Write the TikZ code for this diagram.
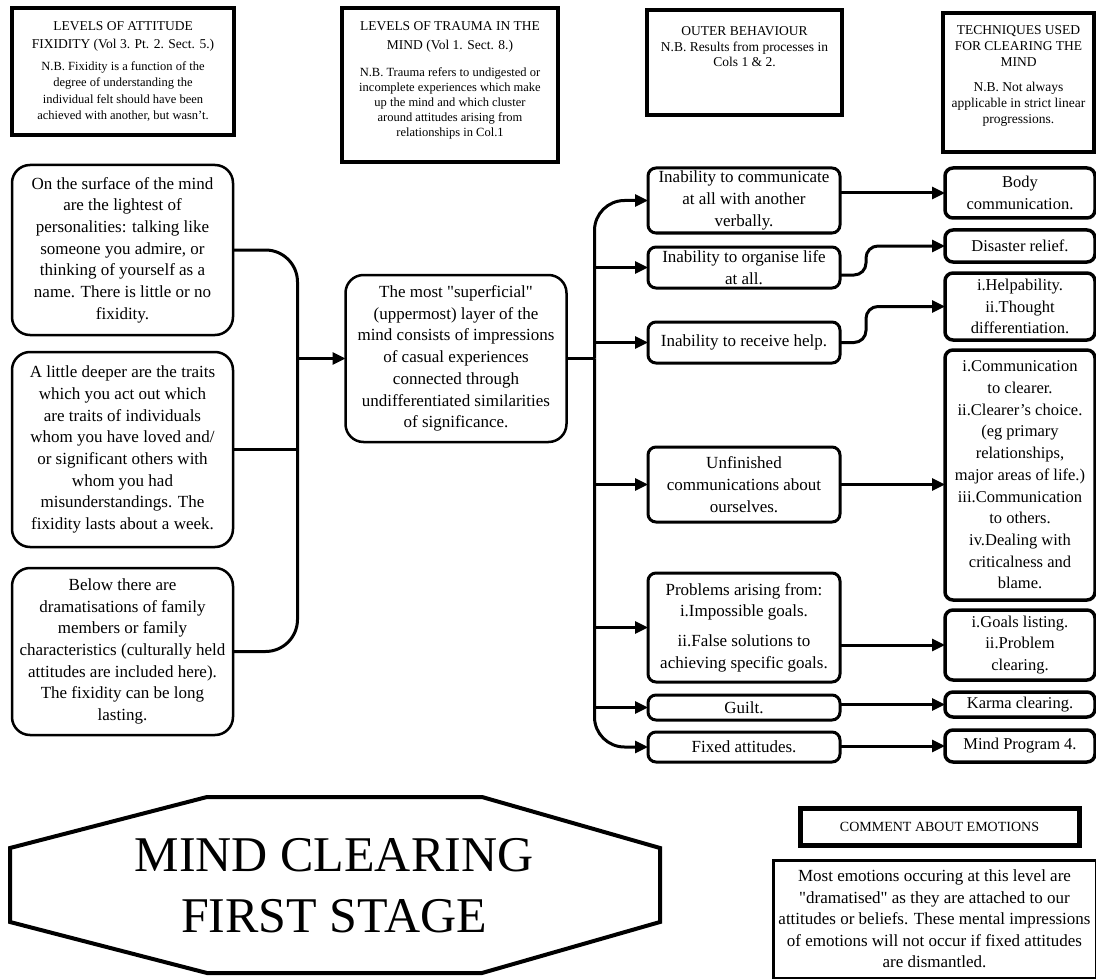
\documentclass[tikz,border=0pt]{standalone}
\usepackage{fontspec}
\setmainfont{Liberation Serif}
\usetikzlibrary{positioning}
\usetikzlibrary{arrows.meta}
\newcommand\ttl{\fontsize{13.5}{15}\selectfont}
\newcommand\qq{\textquotedbl}
\tikzset{
    hdrbox/.style={draw, line width=4pt, align=center, inner sep=2pt, outer sep=0pt},
    lvlbox/.style={draw, line width=2.5pt, rounded corners=18pt, align=center, inner sep=0pt, outer sep=0pt,
        minimum width=221pt, font=\fontsize{17}{21.7}\selectfont},
    outbox/.style={draw, line width=3pt, rounded corners=8pt, align=center, inner sep=0pt, outer sep=0pt,
        minimum width=192pt, font=\fontsize{17}{21.7}\selectfont},
    techbox/.style={draw, line width=3.5pt, rounded corners=8pt, align=center, inner sep=0pt, outer sep=0pt,
        minimum width=150pt, font=\fontsize{16.5}{21.7}\selectfont},
    link/.style={line width=3pt},
}

\begin{document}
\begin{tikzpicture}[x=1pt, y=-1pt, >={Triangle[length=13pt,width=12pt]}]
            \useasboundingbox (0,0) rectangle (1096,979);

            % column headers
            \node (fixhdr) [hdrbox, minimum width=222pt, minimum height=127pt, font=\fontsize{12.5}{16.5}\selectfont]
                at (123,71.5) {\ttl LEVELS OF ATTITUDE\\[1.5pt]\ttl FIXIDITY (Vol 3. Pt. 2. Sect. 5.)\\[5.5pt]
                N.B. Fixidity is a function of the\\degree of understanding the\\individual felt should have been\\achieved with another, but wasn't.};
            \node (trahdr) [hdrbox, minimum width=216pt, minimum height=154pt, text depth=12pt, font=\fontsize{12.5}{15}\selectfont]
                at (450,85) {\ttl LEVELS OF TRAUMA IN THE\\[4pt]\ttl MIND (Vol 1. Sect. 8.)\\[12pt]
                N.B. Trauma refers to undigested or\\incomplete experiences which make\\up the mind and which cluster\\around attitudes arising from\\relationships in Col.1};
            \node (outhdr) [hdrbox, minimum width=195pt, minimum height=105pt, text depth=32pt, font=\fontsize{13.5}{15}\selectfont]
                at (744.5,62.5) {\ttl OUTER BEHAVIOUR\\[1pt]N.B. Results from processes in\\Cols 1 \& 2.};
            \node (techhdr) [hdrbox, minimum width=151pt, minimum height=139pt, text depth=16pt, font=\fontsize{13.5}{16}\selectfont]
                at (1018.5,82.5) {\ttl TECHNIQUES USED\\[0pt]\ttl FOR CLEARING THE\\[0pt]\ttl MIND\\[9pt]
                N.B. Not always\\applicable in strict linear\\progressions.};

            % levels of fixidity
            \node (lvl1) [lvlbox, minimum height=170pt] at (122.5,250)
                {On the surface of the mind\\are the lightest of\\personalities: talking like\\someone you admire, or\\thinking of yourself as a\\name. There is little or no\\fixidity.};
            \node (lvl2) [lvlbox, minimum height=195pt, below=17pt of lvl1]
                {A little deeper are the traits\\which you act out which\\are traits of individuals\\whom you have loved and/\\or significant others with\\whom you had\\misunderstandings. The\\fixidity lasts about a week.};
            \node (lvl3) [lvlbox, minimum height=167pt, below=21pt of lvl2]
                {Below there are\\dramatisations of family\\members or family\\characteristics (culturally held\\attitudes are included here).\\The fixidity can be long\\lasting.};

            \node (trauma) [lvlbox, minimum height=167pt] at (456,358.5)
                {The most \qq superficial\qq\\(uppermost) layer of the\\mind consists of impressions\\of casual experiences\\connected through\\undifferentiated similarities\\of significance.};

            % outer behaviour
            \node (ob1) [outbox, minimum height=65pt] at (744,200.5) {Inability to communicate\\at all with another\\verbally.};
            \node (ob2) [outbox, minimum height=41pt, below=14pt of ob1] {Inability to organise life\\at all.};
            \node (ob3) [outbox, minimum height=41pt, below=34pt of ob2] {Inability to receive help.};
            \node (ob4) [outbox, minimum height=75pt, below=84pt of ob3] {Unfinished\\communications about\\ourselves.};
            \node (ob5) [outbox, minimum height=109pt, below=51pt of ob4]
                {Problems arising from:\\i.Impossible goals.\\[8pt]ii.False solutions to\\achieving specific goals.};
            \node (ob6) [outbox, minimum height=25pt, below=13pt of ob5] {Guilt.};
            \node (ob7) [outbox, minimum height=30pt, below=12pt of ob6] {Fixed attitudes.};

            % techniques
            \node (tq1) [techbox, minimum height=50pt] at (1020,193) {Body\\communication.};
            \node (tq2) [techbox, minimum height=32pt, below=12pt of tq1] {Disaster relief.};
            \node (tq3) [techbox, minimum height=67pt, below=11pt of tq2] {i.Helpability.\\ii.Thought\\differentiation.};
            \node (tq4) [techbox, minimum height=250pt, below=10pt of tq3]
                {i.Communication\\to clearer.\\ii.Clearer's choice.\\(eg primary\\relationships,\\major areas of life.)\\iii.Communication\\to others.\\iv.Dealing with\\criticalness and\\blame.};
            \node (tq5) [techbox, minimum height=70pt, below=10pt of tq4] {i.Goals listing.\\ii.Problem\\clearing.};
            \node (tq6) [techbox, minimum height=25pt, below=12pt of tq5] {Karma clearing.};
            \node (tq7) [techbox, minimum height=32pt, below=13pt of tq6] {Mind Program 4.};

            % connectors
            \coordinate (busl) at ([xshift=-48pt]trauma.west);
            \coordinate (busr) at ([xshift=28pt]trauma.east);
            \draw[link, rounded corners=32pt] (lvl1.east) -| (busl) |- (lvl3.east);
            \draw[link] (lvl2.east) -- (lvl2.east -| busl);
            \draw[link, ->] (busl) -- (trauma.west);
            \draw[link] (trauma.east) -- (busr);
            \draw[link, ->, rounded corners=30pt] (busr) |- (ob1.west);
            \draw[link, ->, rounded corners=30pt] (busr) |- (ob7.west);
            \foreach \n in {ob2,ob3,ob4,ob5,ob6}
                \draw[link, ->] (busr |- \n.west) -- (\n.west);

            \foreach \a/\b in {ob1/tq1,ob5/tq5,ob6/tq6,ob7/tq7}
                \draw[link, ->] (\a.east |- \b.west) -- (\b.west);
            \draw[link, ->] (ob4.east) -- (ob4.east -| tq4.west);
            \draw[link, ->, rounded corners=12pt] ([yshift=-7.5pt]ob2.east) -- ++(26,0) |- (tq2.west);
            \draw[link, ->, rounded corners=12pt] (ob3.east) -- ++(26,0) |- (tq3.west);

            % title plate
            \draw[line width=4pt] (10,848) -- (207,797) -- (482,797) -- (660,848) -- (660,922) -- (482,973) -- (207,973) -- (10,922) -- cycle;
            \node (stage) [align=center, font=\fontsize{50}{61}\selectfont] at (334,886) {MIND CLEARING\\FIRST STAGE};

            % comment
            \node (emohdr) [hdrbox, line width=5pt, minimum width=279pt, minimum height=37pt, font=\fontsize{14}{16}\selectfont]
                at (939.5,826.5) {COMMENT ABOUT EMOTIONS};
            \node (emotxt) [draw, line width=3pt, align=center, inner sep=2pt, outer sep=0pt, minimum width=323pt, minimum height=118pt,
                font=\fontsize{17}{21.5}\selectfont] at (934.5,919)
                {Most emotions occuring at this level are\\\qq dramatised\qq\ as they are attached to our\\attitudes or beliefs. These mental impressions\\of emotions will not occur if fixed attitudes\\are dismantled.};
        \end{tikzpicture}
\end{document}
